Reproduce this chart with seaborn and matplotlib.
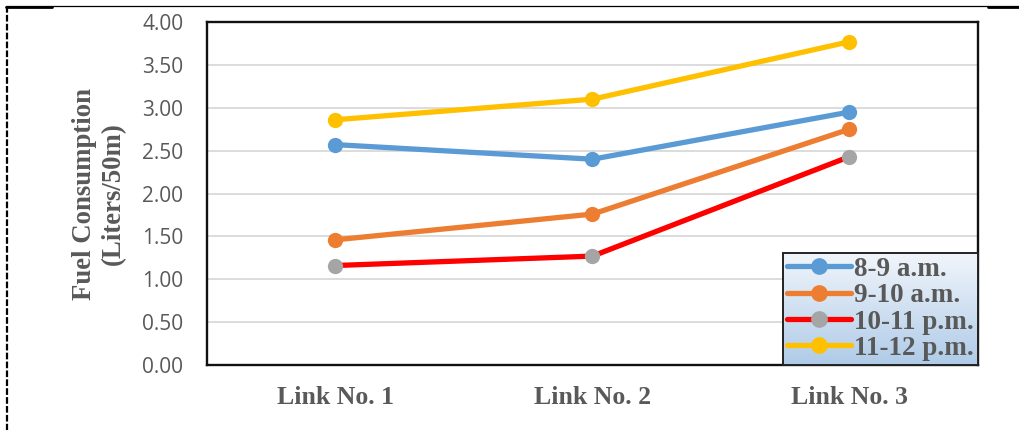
import numpy as np
import pandas as pd
import matplotlib
matplotlib.use("Agg")
import matplotlib.pyplot as plt
from matplotlib.lines import Line2D
import seaborn as sns

# Data
links = ["Link No. 1", "Link No. 2", "Link No. 3"]
series_names = ["8-9 a.m.", "9-10 a.m.", "10-11 p.m.", "11-12 p.m."]
am_8_9 = [2.57, 2.40, 2.95]
am_9_10 = [1.46, 1.76, 2.75]
pm_10_11 = [1.16, 1.27, 2.43]
pm_11_12 = [2.86, 3.10, 3.77]
y_ticks = [0.0, 0.5, 1.0, 1.5, 2.0, 2.5, 3.0, 3.5, 4.0]

line_colors = ["#5B9BD5", "#ED7D31", "#FF0000", "#FFC000"]
marker_colors = ["#5B9BD5", "#ED7D31", "#A5A5A5", "#FFC000"]
text_color = "#595959"

sns.set_theme(style="white")
plt.rcParams["font.family"] = ["Liberation Serif", "DejaVu Serif"]

fig = plt.figure(figsize=(10.2, 4.3), dpi=100)
ax = fig.add_axes([207 / 1020, 1 - 365 / 430, (978 - 207) / 1020, (365 - 22) / 430])

df = pd.DataFrame({
    "link": links * 4,
    "value": am_8_9 + am_9_10 + pm_10_11 + pm_11_12,
    "period": sum([[n] * 3 for n in series_names], []),
})

for name, lc, mc in zip(series_names, line_colors, marker_colors):
    sub = df[df["period"] == name]
    sns.lineplot(data=sub, x="link", y="value", ax=ax, color=lc, linewidth=3.8,
                 marker="o", markersize=11, markerfacecolor=mc, markeredgecolor=mc,
                 markeredgewidth=0, label=name, legend=False, sort=False, zorder=3)

ax.set_xlim(-0.5, 2.5)
ax.set_ylim(0, 4)
ax.set_yticks(y_ticks)
ax.set_yticklabels([f"{v:.2f}" for v in y_ticks], family="Open Sans",
                   fontsize=15, color=text_color)
ax.set_xticks(range(len(links)))
ax.set_xticklabels(links, fontsize=18.5, fontweight="bold", color=text_color)
ax.tick_params(axis="x", length=0, pad=15)
ax.tick_params(axis="y", length=0, pad=17)
ax.set_xlabel("")
ax.set_ylabel("Fuel Consumption\n(Liters/50m)", fontsize=19.3, fontweight="bold",
              color=text_color, va="center", linespacing=1.2)
ax.yaxis.set_label_coords((99 - 207) / 771, 0.5)

ax.grid(axis="y", color="#D9D9D9", linewidth=1.3)
ax.grid(axis="x", visible=False)
ax.set_axisbelow(True)
for s in ax.spines.values():
    s.set_visible(True)
    s.set_color("#111111")
    s.set_linewidth(1.7)

# Legend with a soft blue gradient panel at the lower right of the plot
handles = [Line2D([0], [0], color=lc, linewidth=3.8, marker="o", markersize=11,
                  markerfacecolor=mc, markeredgecolor=mc) for lc, mc in zip(line_colors, marker_colors)]
leg = fig.legend(handles, series_names, loc="lower right",
                 bbox_to_anchor=(978 / 1020, 1 - 365 / 430), bbox_transform=fig.transFigure,
                 prop={"family": "Liberation Serif", "weight": "bold", "size": 19.5},
                 labelcolor=text_color, frameon=True, fancybox=False, framealpha=1,
                 handlelength=2.35, handletextpad=0.12, labelspacing=0.05,
                 borderpad=0.15, borderaxespad=0, numpoints=1)
leg.get_frame().set_facecolor("none")
leg.get_frame().set_edgecolor("#222222")
leg.get_frame().set_linewidth(1.4)
leg.set_zorder(5)

fig.canvas.draw()
bb = leg.get_window_extent().transformed(fig.transFigure.inverted())
gax = fig.add_axes([bb.x0, bb.y0, bb.width, bb.height], zorder=1)
grad = np.linspace(0, 1, 256).reshape(-1, 1)
cmap = matplotlib.colors.LinearSegmentedColormap.from_list("panel", ["#F2F6FB", "#AFCBE8"])
gax.imshow(grad, aspect="auto", cmap=cmap, origin="upper", extent=[0, 1, 0, 1])
gax.set_axis_off()

# Outer frame: top rule and dashed left edge
fig.add_artist(Line2D([6 / 1020, 1.0], [1 - 6 / 430, 1 - 6 / 430], color="black",
                      linewidth=0.9, transform=fig.transFigure))
fig.add_artist(Line2D([6 / 1020, 52 / 1020], [1 - 6.5 / 430, 1 - 6.5 / 430], color="black",
                      linewidth=2.0, transform=fig.transFigure))
fig.add_artist(Line2D([988 / 1020, 1.0], [1 - 7 / 430, 1 - 7 / 430], color="black",
                      linewidth=2.0, transform=fig.transFigure))
fig.add_artist(Line2D([7 / 1020, 7 / 1020], [1 - 6 / 430, 0], color="black",
                      linewidth=1.6, linestyle=(0, (3, 1)), transform=fig.transFigure))

fig.savefig("out.png", dpi=100)
